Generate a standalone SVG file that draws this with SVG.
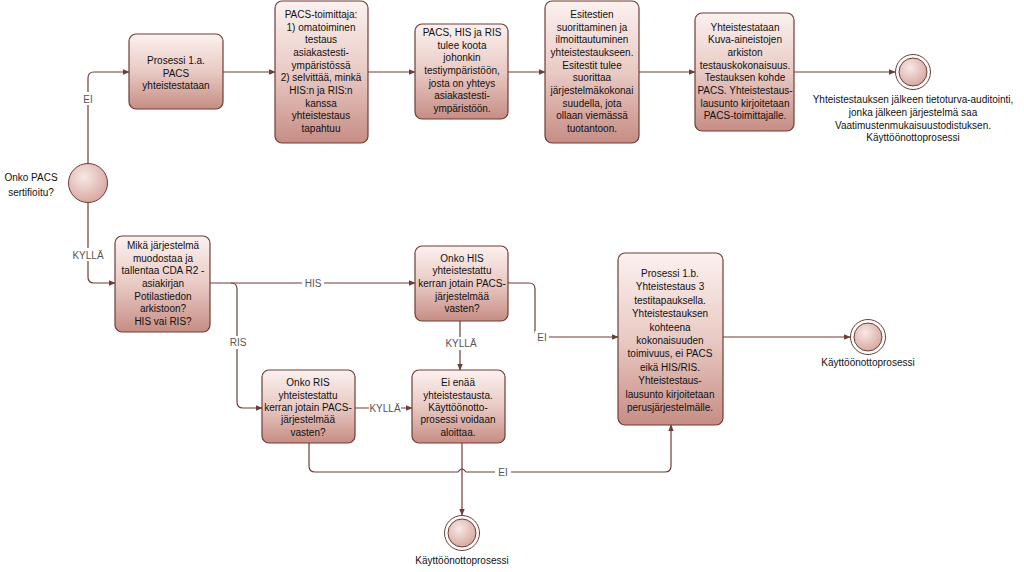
<svg xmlns="http://www.w3.org/2000/svg" width="1024" height="572" viewBox="0 0 1024 572">
<defs>
<linearGradient id="g" x1="0" y1="0" x2="0" y2="1">
<stop offset="0" stop-color="#fbf1ef"/>
<stop offset="0.5" stop-color="#e9cac4"/>
<stop offset="1" stop-color="#c68d84"/>
</linearGradient>
<radialGradient id="rg" cx="0.4" cy="0.35" r="0.7">
<stop offset="0" stop-color="#f8e8e5"/>
<stop offset="1" stop-color="#d6a59d"/>
</radialGradient>
<marker id="a" viewBox="0 0 10 10" refX="9" refY="5" markerWidth="7" markerHeight="7" orient="auto" markerUnits="userSpaceOnUse">
<path d="M0,1 L10,5 L0,9 z" fill="#6b3f38"/>
</marker>
</defs>
<style>
.box{fill:url(#g);stroke:#6e3d36;stroke-width:1.2}
.t{font-family:"Liberation Sans",Arial,sans-serif;font-size:10px;fill:#111;text-anchor:middle}
.l{font-family:"Liberation Sans",Arial,sans-serif;font-size:10px;fill:#555;text-anchor:middle}
.c{fill:none;stroke:#6b3f38;stroke-width:1.2}
.ring{fill:#fff;stroke:#6e3d36;stroke-width:1}
.in{fill:url(#rg);stroke:#6e3d36;stroke-width:1}
.bg{fill:#fff}
</style>
<rect width="1024" height="572" fill="#fff"/>

<g id="connectors">
<path class="c" d="M88,163 V78 Q88,72 94,72 H129" marker-end="url(#a)"/>
<path class="c" d="M88,203 V277 Q88,283 94,283 H115" marker-end="url(#a)"/>
<path class="c" d="M223,72 H275" marker-end="url(#a)"/>
<path class="c" d="M368,72 H415" marker-end="url(#a)"/>
<path class="c" d="M508,72 H545" marker-end="url(#a)"/>
<path class="c" d="M639,72 H695" marker-end="url(#a)"/>
<path class="c" d="M794,72 H895" marker-end="url(#a)"/>
<path class="c" d="M210,283 H415" marker-end="url(#a)"/>
<path class="c" d="M231,283 Q237,283 237,289 V402 Q237,408 243,408 H262" marker-end="url(#a)"/>
<path class="c" d="M460,321 V370" marker-end="url(#a)"/>
<path class="c" d="M355,408 H412" marker-end="url(#a)"/>
<path class="c" d="M508,283 H529 Q535,283 535,289 V331 Q535,337 541,337 H618" marker-end="url(#a)"/>
<path class="c" d="M723,337 H850" marker-end="url(#a)"/>
<path class="c" d="M462,443 V515" marker-end="url(#a)"/>
<path class="c" d="M309,443 V466 Q309,472 315,472 H458 Q462,466 466,472 H665 Q671,472 671,466 V425" marker-end="url(#a)"/>
<rect class="bg" x="80" y="92" width="16" height="13"/>
<text class="l" x="88" y="103">EI</text>
<rect class="bg" x="72" y="248" width="32" height="13"/>
<text class="l" x="88" y="259">KYLLÄ</text>
<rect class="bg" x="302" y="277" width="22" height="12"/>
<text class="l" x="313" y="287">HIS</text>
<rect class="bg" x="229" y="336" width="18" height="13"/>
<text class="l" x="238" y="346">RIS</text>
<rect class="bg" x="445" y="337" width="32" height="13"/>
<text class="l" x="461" y="347">KYLLÄ</text>
<rect class="bg" x="369" y="402" width="32" height="12"/>
<text class="l" x="385" y="412">KYLLÄ</text>
<rect class="bg" x="535" y="331" width="14" height="12"/>
<text class="l" x="542" y="341">EI</text>
<rect class="bg" x="495" y="466" width="16" height="12"/>
<text class="l" x="503" y="476">EI</text>
</g>

<g id="start">
<circle cx="88" cy="183" r="19.5" fill="url(#rg)" stroke="#6e3d36" stroke-width="1"/>
<text class="t" x="31" y="181">Onko PACS</text>
<text class="t" x="31" y="196">sertifioitu?</text>
</g>

<g id="p1a">
<rect class="box" x="129" y="34" width="94" height="75" rx="7"/>
<text class="t" x="176" y="64">Prosessi 1.a.</text>
<text class="t" x="176" y="77">PACS</text>
<text class="t" x="176" y="89">yhteistestataan</text>
</g>

<g id="pacsToimittaja">
<rect class="box" x="275" y="1" width="93" height="142" rx="7"/>
<text class="t" x="321" y="18">PACS-toimittaja:</text>
<text class="t" x="321" y="31">1) omatoiminen</text>
<text class="t" x="321" y="43">testaus</text>
<text class="t" x="321" y="56">asiakastesti-</text>
<text class="t" x="321" y="69">ympäristössä</text>
<text class="t" x="321" y="81">2) selvittää, minkä</text>
<text class="t" x="321" y="94">HIS:n ja RIS:n</text>
<text class="t" x="321" y="107">kanssa</text>
<text class="t" x="321" y="119">yhteistestaus</text>
<text class="t" x="321" y="132">tapahtuu</text>
</g>

<g id="kokoaminen">
<rect class="box" x="415" y="24" width="93" height="95" rx="7"/>
<text class="t" x="462" y="36">PACS, HIS ja RIS</text>
<text class="t" x="462" y="49">tulee koota</text>
<text class="t" x="462" y="61">johonkin</text>
<text class="t" x="462" y="74">testiympäristöön,</text>
<text class="t" x="462" y="87">josta on yhteys</text>
<text class="t" x="462" y="99">asiakastesti-</text>
<text class="t" x="462" y="112">ympäristöön.</text>
</g>

<g id="esitestit">
<rect class="box" x="545" y="1" width="94" height="142" rx="7"/>
<text class="t" x="592" y="18">Esitestien</text>
<text class="t" x="592" y="31">suorittaminen ja</text>
<text class="t" x="592" y="43">ilmoittautuminen</text>
<text class="t" x="592" y="56">yhteistestaukseen.</text>
<text class="t" x="592" y="69">Esitestit tulee</text>
<text class="t" x="592" y="81">suorittaa</text>
<text class="t" x="592" y="94">järjestelmäkokonai</text>
<text class="t" x="592" y="107">suudella, jota</text>
<text class="t" x="592" y="119">ollaan viemässä</text>
<text class="t" x="592" y="132">tuotantoon.</text>
</g>

<g id="yhteistestataan">
<rect class="box" x="695" y="13" width="99" height="118" rx="7"/>
<text class="t" x="745" y="31">Yhteistestataan</text>
<text class="t" x="745" y="43">Kuva-aineistojen</text>
<text class="t" x="745" y="56">arkiston</text>
<text class="t" x="745" y="69">testauskokonaisuus.</text>
<text class="t" x="745" y="81">Testauksen kohde</text>
<text class="t" x="745" y="94">PACS. Yhteistestaus-</text>
<text class="t" x="745" y="107">lausunto kirjoitetaan</text>
<text class="t" x="745" y="119">PACS-toimittajalle.</text>
</g>

<g id="end1">
<circle class="ring" cx="913" cy="72" r="17.5"/>
<circle class="in" cx="913" cy="72" r="14"/>
<text class="t" x="913" y="103">Yhteistestauksen jälkeen tietoturva-auditointi,</text>
<text class="t" x="913" y="116">jonka jälkeen järjestelmä saa</text>
<text class="t" x="913" y="129">Vaatimustenmukaisuustodistuksen.</text>
<text class="t" x="913" y="141">Käyttöönottoprosessi</text>
</g>

<g id="mika">
<rect class="box" x="115" y="236" width="95" height="96" rx="7"/>
<text class="t" x="163" y="249">Mikä järjestelmä</text>
<text class="t" x="163" y="262">muodostaa ja</text>
<text class="t" x="163" y="274">tallentaa CDA R2 -</text>
<text class="t" x="163" y="287">asiakirjan</text>
<text class="t" x="163" y="300">Potilastiedon</text>
<text class="t" x="163" y="312">arkistoon?</text>
<text class="t" x="163" y="325">HIS vai RIS?</text>
</g>

<g id="onkoHIS">
<rect class="box" x="415" y="246" width="93" height="75" rx="7"/>
<text class="t" x="462" y="262">Onko HIS</text>
<text class="t" x="462" y="274">yhteistestattu</text>
<text class="t" x="462" y="287">kerran jotain PACS-</text>
<text class="t" x="462" y="300">järjestelmää</text>
<text class="t" x="462" y="312">vasten?</text>
</g>

<g id="onkoRIS">
<rect class="box" x="262" y="370" width="93" height="73" rx="7"/>
<text class="t" x="308" y="386">Onko RIS</text>
<text class="t" x="308" y="399">yhteistestattu</text>
<text class="t" x="308" y="411">kerran jotain PACS-</text>
<text class="t" x="308" y="423">järjestelmää</text>
<text class="t" x="308" y="436">vasten?</text>
</g>

<g id="eiEnaa">
<rect class="box" x="412" y="370" width="93" height="73" rx="7"/>
<text class="t" x="458" y="386">Ei enää</text>
<text class="t" x="458" y="399">yhteistestausta.</text>
<text class="t" x="458" y="411">Käyttöönotto-</text>
<text class="t" x="458" y="423">prosessi voidaan</text>
<text class="t" x="458" y="436">aloittaa.</text>
</g>

<g id="p1b">
<rect class="box" x="618" y="253" width="105" height="172" rx="7"/>
<text class="t" x="670" y="277">Prosessi 1.b.</text>
<text class="t" x="670" y="290">Yhteistestaus 3</text>
<text class="t" x="670" y="304">testitapauksella.</text>
<text class="t" x="670" y="317">Yhteistestauksen</text>
<text class="t" x="670" y="331">kohteena</text>
<text class="t" x="670" y="344">kokonaisuuden</text>
<text class="t" x="670" y="357">toimivuus, ei PACS</text>
<text class="t" x="670" y="371">eikä HIS/RIS.</text>
<text class="t" x="670" y="384">Yhteistestaus-</text>
<text class="t" x="670" y="398">lausunto kirjoitetaan</text>
<text class="t" x="670" y="411">perusjärjestelmälle.</text>
</g>

<g id="end2">
<circle class="ring" cx="868" cy="337" r="17.5"/>
<circle class="in" cx="868" cy="337" r="14"/>
<text class="t" x="868" y="366">Käyttöönottoprosessi</text>
</g>

<g id="end3">
<circle class="ring" cx="462" cy="533" r="17.5"/>
<circle class="in" cx="462" cy="533" r="14"/>
<text class="t" x="462" y="564">Käyttöönottoprosessi</text>
</g>
</svg>
